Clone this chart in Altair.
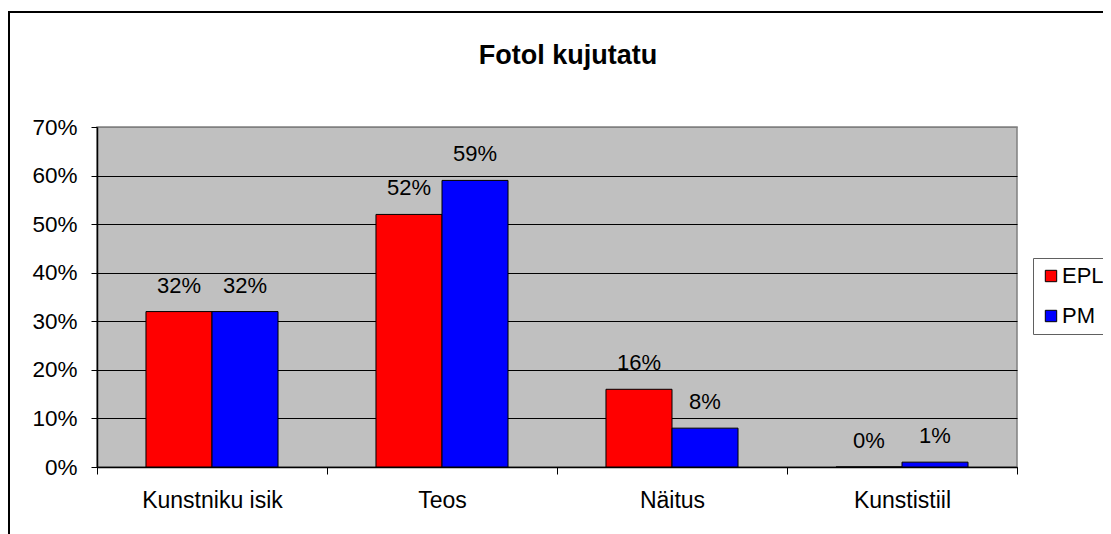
import altair as alt
import pandas as pd

categories = ["Kunstniku isik", "Teos", "Näitus", "Kunstistiil"]
series = ["EPL", "PM"]
epl_values = [32, 52, 16, 0]
pm_values = [32, 59, 8, 1]
y_ticks = [0, 10, 20, 30, 40, 50, 60, 70]
colors = ["#FF0000", "#0000FF"]

rows = []
for c, e, p in zip(categories, epl_values, pm_values):
    rows.append({"cat": c, "series": "EPL", "value": e})
    rows.append({"cat": c, "series": "PM", "value": p})
df = pd.DataFrame(rows)

FONT = "Liberation Sans"

x_enc = alt.X("cat:N", sort=categories, title=None,
              scale=alt.Scale(paddingInner=0, paddingOuter=0),
              axis=alt.Axis(labelAngle=0, labelFontSize=23, labelColor="black",
                            labelFont=FONT, labelPadding=15, tickBand="extent",
                            tickSize=7, tickColor="black", domainColor="black",
                            domainWidth=1.5, grid=False))
xo_enc = alt.XOffset("series:N", sort=series,
                     scale=alt.Scale(paddingInner=0, paddingOuter=0.742))
y_enc = alt.Y("value:Q", title=None,
              scale=alt.Scale(domain=[0, 70], nice=False),
              axis=alt.Axis(values=y_ticks, labelExpr="datum.value + '%'",
                            labelFontSize=22.5, labelFont=FONT, labelColor="black",
                            labelPadding=14, tickSize=6, tickColor="black",
                            domainColor="black", domainWidth=1.5,
                            grid=True, gridColor={"condition": {"test": "datum.value >= 70", "value": "#808080"}, "value": "black"},
                            gridWidth=1))

bars = alt.Chart(df).mark_bar(stroke="black", strokeWidth=1).encode(
    x=x_enc,
    xOffset=xo_enc,
    y=y_enc,
    color=alt.Color("series:N", sort=series,
                    scale=alt.Scale(domain=series, range=colors),
                    legend=alt.Legend(title=None, orient="none", legendX=936, legendY=131,
                                      labelFontSize=22, labelFont=FONT, labelColor="black",
                                      symbolType="square", symbolSize=130,
                                      symbolStrokeColor="black", symbolStrokeWidth=1,
                                      symbolOpacity=1,
                                      strokeColor="#606060", padding=7,
                                      rowPadding=18, labelOffset=0)),
)

labels = alt.Chart(df).transform_calculate(
    label="datum.value + '%'"
).mark_text(fontSize=22, font=FONT, color="black", baseline="alphabetic", dy=-19).encode(
    x=alt.X("cat:N", sort=categories),
    xOffset=alt.XOffset("series:N", sort=series),
    y=alt.Y("value:Q"),
    text="label:N",
)

border = alt.Chart(pd.DataFrame({"a": [0]})).mark_rect(
    fill=None, stroke="black", strokeWidth=2, clip=False
).encode(
    x=alt.value(-88), x2=alt.value(1300), y=alt.value(-115), y2=alt.value(700)
)

chart = alt.layer(border, bars, labels).properties(
    width=920, height=340,
    autosize=alt.AutoSizeParams(type="none"),
    padding={"left": 89, "top": 119, "right": 86, "bottom": 100},
    title=alt.TitleParams("Fotol kujutatu", fontSize=27, font=FONT, fontWeight="bold",
                          color="black", frame="group", anchor="middle", dx=11, offset=-59),
).configure_view(
    fill="#C0C0C0", stroke="#808080", strokeWidth=1.5
)

chart.save("out.html", embed_options={"renderer": "svg", "actions": False})
